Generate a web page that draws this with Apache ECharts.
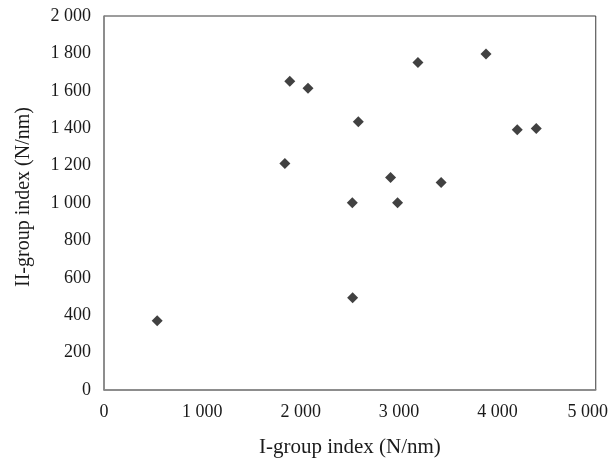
<!DOCTYPE html>
<html>
<head>
<meta charset="utf-8">
<script src="https://cdn.jsdelivr.net/npm/echarts@6/dist/echarts.min.js"></script>
<style>
  html, body { margin: 0; padding: 0; background: #fff; }
  #chart-container { width: 611px; height: 463px; }
</style>
</head>
<body>
<div id="chart-container"></div>
<script>
var xValues = [541, 1839, 1889, 2074, 2525, 2528, 2586, 2914, 2985, 3192, 3428, 3884, 4202, 4395];
var yValues = [370, 1211, 1651, 1614, 1001, 493, 1434, 1137, 1001, 1752, 1110, 1797, 1392, 1399];

var points = xValues.map(function (x, i) {
  return [x, yValues[i]];
});

function fmt(v) {
  // thousands separated by a space, as in the original
  return String(v).replace(/\B(?=(\d{3})+(?!\d))/g, " ");
}

var dom = document.getElementById("chart-container");
var myChart = echarts.init(dom, null, { renderer: "canvas" });

var font = "Liberation Serif";

var option = {
  backgroundColor: "#fff",
  animation: false,
  grid: {
    left: 104,
    right: 14,
    top: 16,
    bottom: 70,
    show: true,
    borderColor: "#3a3a3a",
    borderWidth: 1
  },
  xAxis: {
    type: "value",
    min: 0,
    max: 5000,
    interval: 1000,
    name: "I-group index (N/nm)",
    nameLocation: "middle",
    nameGap: 47,
    nameTextStyle: { fontFamily: font, fontSize: 21, color: "#1a1a1a" },
    axisLine: { show: true, lineStyle: { color: "#888", width: 1.5 } },
    axisTick: { show: false },
    splitLine: { show: false },
    axisLabel: {
      fontFamily: font, fontSize: 18, color: "#1a1a1a", margin: 13,
      formatter: function (v) {
        // last label sits a little inside, like the original
        return v === 5000 ? "{last|" + fmt(v) + "}" : fmt(v);
      },
      rich: {
        last: { fontFamily: font, fontSize: 18, color: "#1a1a1a", padding: [0, 16, 0, 0] }
      }
    }
  },
  yAxis: {
    type: "value",
    min: 0,
    max: 2000,
    interval: 200,
    name: "II-group index (N/nm)",
    nameLocation: "middle",
    nameGap: 70,
    nameTextStyle: { fontFamily: font, fontSize: 20, color: "#1a1a1a", padding: [0, 0, 0, 12] },
    axisLine: { show: true, lineStyle: { color: "#888", width: 1.5 } },
    axisTick: { show: false },
    splitLine: { show: false },
    axisLabel: {
      fontFamily: font, fontSize: 18, color: "#1a1a1a", margin: 13,
      formatter: fmt
    }
  },
  series: [
    {
      type: "scatter",
      symbol: "diamond",
      symbolSize: 11,
      itemStyle: { color: "#111" },
      data: points
    }
  ]
};

myChart.setOption(option);
</script>
</body>
</html>
